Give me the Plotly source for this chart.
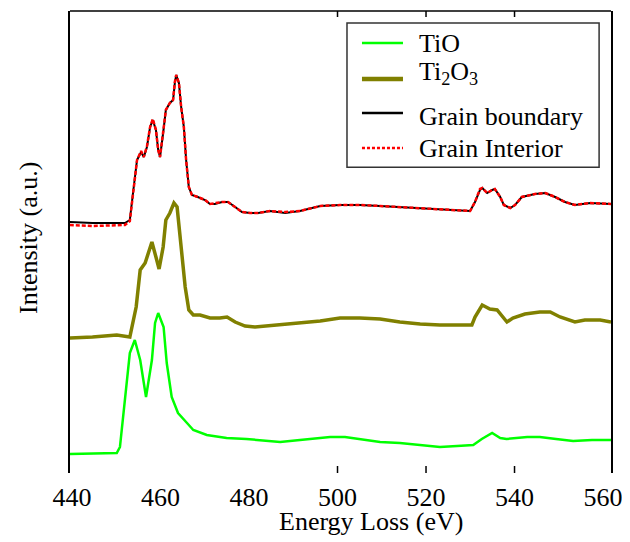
import plotly.graph_objects as go

# ---- data (arbitrary intensity units) ----
tio_energy = [439.5, 444.63, 450.12, 450.84, 451.96, 453.07, 454.19, 455.41, 456.73, 458.06,
              458.77, 459.48, 460.70, 461.41, 462.53, 463.96, 465.99, 467.41, 470.46, 474.94,
              479.41, 482.46, 487.04, 491.51, 498.33, 501.68, 505.04, 509.62, 514.09, 518.67,
              523.14, 527.01, 530.67, 532.60, 534.94, 536.77, 538.19, 542.87, 545.72, 549.38,
              553.24, 557.51, 561.8]
tio_intensity = [19, 19.5, 20, 26, 76, 120, 133, 113, 76, 113,
                 150, 160, 146, 110, 76, 60, 50, 43, 38, 35,
                 34, 33, 31, 33, 36, 36, 34, 31, 30, 28,
                 26, 27, 28, 34, 40, 35, 34, 36, 36, 34,
                 32, 33, 33]

ti2o3_energy = [439.5, 444.63, 450.12, 453.07, 454.50, 455.41, 456.53, 457.65, 458.06, 458.97,
                459.68, 460.60, 461.21, 462.12, 463.04, 463.75, 464.67, 465.58, 466.40, 467.41,
                468.94, 471.18, 473.41, 475.04, 476.87, 479.11, 481.35, 487.04, 491.51, 496.09,
                500.57, 505.04, 509.62, 514.09, 518.67, 523.14, 530.36, 531.07, 532.70, 534.43,
                536.06, 537.38, 538.29, 539.62, 542.36, 545.72, 548.06, 550.29, 553.65, 555.89,
                559.35, 561.8]
ti2o3_intensity = [135, 136, 138, 136, 166, 203, 210, 226, 231, 216,
                   204, 226, 253, 260, 270, 266, 226, 186, 163, 158,
                   158, 155, 155, 156, 151, 147, 146, 148, 150, 152,
                   155, 155, 154, 151, 149, 148, 148, 156, 168, 164,
                   163, 156, 151, 155, 159, 161, 161, 156, 151, 153,
                   153, 151]

gb_energy = [439.5, 444.63, 451.96, 453.07, 453.79, 454.70, 455.62, 456.23, 456.94, 457.65,
             458.26, 458.97, 459.48, 459.89, 460.60, 461.21, 462.12, 462.84, 463.24, 463.55,
             464.16, 464.67, 465.28, 465.79, 466.40, 467.11, 468.43, 470.06, 471.18, 472.29,
             473.92, 475.24, 476.87, 478.40, 480.23, 482.06, 484.70, 488.16, 491.51, 496.09,
             500.57, 505.04, 509.62, 514.09, 518.67, 523.14, 529.96, 531.07, 532.19, 532.70,
             533.82, 534.94, 535.55, 536.77, 537.58, 539.01, 540.12, 541.65, 544.60, 546.94,
             549.18, 551.41, 553.65, 557.11, 561.8]
gb_intensity = [251, 250, 250, 253, 280, 313, 321, 316, 326, 346,
                353, 343, 323, 316, 340, 363, 370, 373, 390, 398,
                390, 366, 346, 313, 286, 278, 276, 273, 269, 269,
                271, 271, 266, 261, 260, 260, 262, 260, 262, 267,
                268, 268, 267, 266, 265, 264, 262, 271, 283, 285,
                280, 283, 284, 276, 268, 265, 268, 276, 279, 280,
                276, 271, 268, 270, 269]
gi_intensity = [248, 247, 248, 252, 279, 313, 322, 316, 327, 346,
                354, 343, 323, 316, 341, 363, 370, 373, 391, 398,
                390, 366, 346, 313, 286, 278, 276, 273, 269, 270,
                271, 271, 266, 261, 260, 260, 262, 261, 262, 267,
                268, 268, 267, 266, 265, 264, 262, 271, 284, 285,
                280, 283, 284, 276, 268, 265, 268, 276, 279, 280,
                276, 271, 268, 270, 269]

series_names = ["TiO", "Ti<sub>2</sub>O<sub>3</sub>", "Grain boundary", "Grain Interior"]
series_colors = ["#00ff00", "#808000", "black", "#ff0000"]

x_ticks = [440, 460, 480, 500, 520, 540, 560]
x_tick_marks = [500, 520, 540]
x_range = [439.55, 561.8]

FONT = "Liberation Serif, Times New Roman, serif"

fig = go.Figure()
fig.add_trace(go.Scatter(x=tio_energy, y=tio_intensity, mode="lines", name=series_names[0],
                         showlegend=False, line=dict(color=series_colors[0], width=2.5)))
fig.add_trace(go.Scatter(x=ti2o3_energy, y=ti2o3_intensity, mode="lines", name=series_names[1],
                         showlegend=False, line=dict(color=series_colors[1], width=3.5)))
fig.add_trace(go.Scatter(x=gb_energy, y=gb_intensity, mode="lines", name=series_names[2],
                         showlegend=False, line=dict(color=series_colors[2], width=2)))
fig.add_trace(go.Scatter(x=gb_energy, y=gi_intensity, mode="lines", name=series_names[3],
                         showlegend=False,
                         line=dict(color=series_colors[3], width=2.5, dash="4px,2px")))

# ---- hand-built legend box (layout decoration) ----
leg_box = dict(x0=0.512, x1=0.978, y0=0.662, y1=0.974)
leg_line_x = (0.5397, 0.6155)
leg_text_x = 0.6414
leg_line_y = [0.9307, 0.8528, 0.7792, 0.7035]
leg_text_y = [0.9307, 0.8660, 0.7727, 0.7013]
leg_widths = [2.5, 4.5, 2.5, 2.5]
leg_dash = ["solid", "solid", "solid", "3px,2px"]

shapes = [
    dict(type="line", xref="paper", yref="paper", x0=0, x1=1, y0=1, y1=1,
         line=dict(color="black", width=1.5)),
    dict(type="rect", xref="paper", yref="paper", **leg_box,
         fillcolor="white", line=dict(color="#333", width=1.5)),
]
# inward tick marks at the selected energies, bottom and top
for xv in x_tick_marks:
    shapes.append(dict(type="line", xref="x", yref="paper", x0=xv, x1=xv,
                       y0=0, y1=7 / 462, line=dict(color="black", width=1.5)))
    shapes.append(dict(type="line", xref="x", yref="paper", x0=xv, x1=xv,
                       y0=1, y1=1 - 6 / 462, line=dict(color="black", width=1.5)))

annotations = []
for name, col, ly, ty, w, d in zip(series_names, series_colors, leg_line_y, leg_text_y,
                                   leg_widths, leg_dash):
    shapes.append(dict(type="line", xref="paper", yref="paper",
                       x0=leg_line_x[0], x1=leg_line_x[1], y0=ly, y1=ly,
                       line=dict(color=col, width=w, dash=d)))
    annotations.append(dict(text=name, xref="paper", yref="paper", x=leg_text_x, y=ty,
                            xanchor="left", yanchor="middle", showarrow=False,
                            font=dict(family=FONT, size=26, color="black")))

annotations += [
    dict(text="Energy Loss (eV)", xref="paper", yref="paper", x=0.5564, y=-0.106,
         xanchor="center", yanchor="middle", showarrow=False,
         font=dict(family=FONT, size=26, color="black")),
    dict(text="Intensity (a.u.)", xref="paper", yref="paper", x=-0.0758, y=0.5087,
         xanchor="center", yanchor="middle", showarrow=False, textangle=-90,
         font=dict(family=FONT, size=26, color="black")),
]

fig.update_layout(
    width=622, height=534,
    margin=dict(l=62, r=19, t=3, b=69, autoexpand=False),
    paper_bgcolor="white", plot_bgcolor="white",
    font=dict(family=FONT, size=26, color="black"),
    showlegend=False,
    xaxis=dict(range=x_range, tickvals=x_ticks, ticks="", showline=False,
               showgrid=False, zeroline=False, automargin=False,
               ticklabelstandoff=6, ticklabeloverflow="allow",
               tickfont=dict(family=FONT, size=26, color="black")),
    yaxis=dict(range=[0, 462], showticklabels=False, ticks="", showgrid=False,
               zeroline=False, showline=True, mirror=True, linecolor="black",
               linewidth=1.5, automargin=False),
    shapes=shapes,
    annotations=annotations,
)

fig.write_html("out.html")
